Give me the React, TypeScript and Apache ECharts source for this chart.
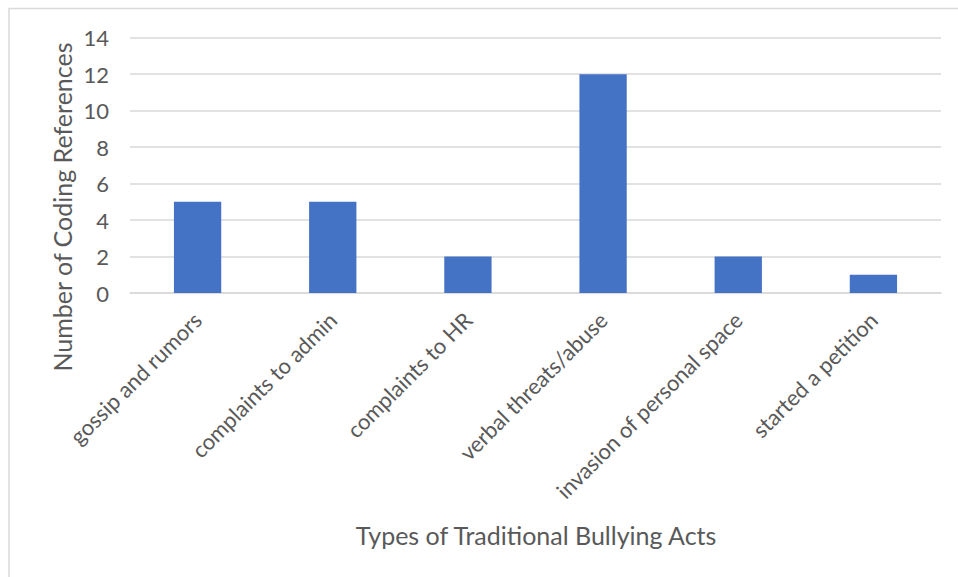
import React, { useEffect, useRef } from "react";
import * as echarts from "echarts";

const categories = [
  "gossip and rumors",
  "complaints to admin",
  "complaints to HR",
  "verbal threats/abuse",
  "invasion of personal space",
  "started a petition",
];
const values = [5, 5, 2, 12, 2, 1];
const yTitle = "Number of Coding References";
const xTitle = "Types of Traditional Bullying Acts";

const FONT = "Lato, 'Open Sans', sans-serif";
const TEXT = "#595959";

export default function App() {
  const ref = useRef<HTMLDivElement>(null);
  useEffect(() => {
    if (!ref.current) return;
    const chart = echarts.init(ref.current, null, { renderer: "svg" });
    chart.setOption({
      animation: false,
      backgroundColor: "#ffffff",
      grid: { left: 130, right: 17, top: 37.7, bottom: 284, containLabel: false },
      xAxis: {
        type: "category",
        data: categories,
        axisLine: { show: true, lineStyle: { color: "#d9d9d9", width: 1.5 } },
        axisTick: { show: false },
        axisLabel: {
          interval: 0,
          rotate: 45,
          margin: 23,
          color: TEXT,
          fontFamily: FONT,
          fontSize: 22,
        },
      },
      yAxis: {
        type: "value",
        min: 0,
        max: 14,
        interval: 2,
        axisLine: { show: false },
        axisTick: { show: false },
        axisLabel: { color: TEXT, fontFamily: FONT, fontSize: 22, margin: 21 },
        splitLine: { lineStyle: { color: "#d9d9d9", width: 1.5 } },
      },
      series: [
        {
          type: "bar",
          data: values,
          barWidth: "35%",
          itemStyle: { color: "#4472C4" },
        },
      ],
      graphic: [
        {
          type: "rect",
          shape: { x: 9, y: 8.5, width: 1000, height: 1000 },
          style: { fill: "none", stroke: "#d9d9d9", lineWidth: 1.5 },
          silent: true,
        },
        {
          type: "text",
          x: 62,
          y: 207,
          rotation: Math.PI / 2,
          style: {
            text: yTitle,
            fill: TEXT,
            font: `25px ${FONT}`,
            align: "center",
            verticalAlign: "middle",
          },
        },
        {
          type: "text",
          x: 536,
          y: 535,
          style: {
            text: xTitle,
            fill: TEXT,
            font: `25px ${FONT}`,
            align: "center",
            verticalAlign: "middle",
          },
        },
      ],
    });
    return () => chart.dispose();
  }, []);
  return (
    <div
      ref={ref}
      style={{ position: "fixed", left: 0, top: 0, width: 958, height: 577 }}
    />
  );
}
